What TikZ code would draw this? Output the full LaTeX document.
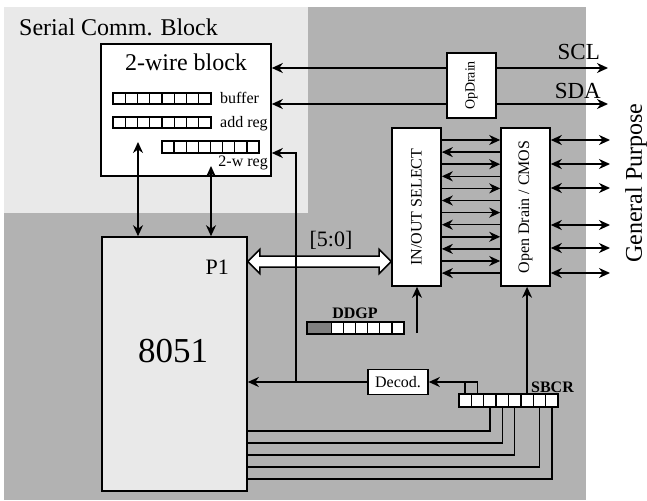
\documentclass[tikz,border=0pt]{standalone}
\usepackage{fontspec}
\usepackage{graphicx}
\setmainfont{Liberation Serif}
\usetikzlibrary{arrows.meta,calc}
\definecolor{lgray}{HTML}{E9E9E9}
\definecolor{dgray}{HTML}{B2B2B2}
\definecolor{cellgray}{HTML}{808080}
\newcommand{\fs}[1]{\fontsize{#1}{#1}\selectfont}
\begin{document}
\begin{tikzpicture}[x=1pt,y=-1pt,
 box/.style={draw,line width=1.6pt,fill=white,inner sep=0pt},
 ln/.style={line width=1.5pt},
 arr/.style={ln,-{Stealth[length=11pt,width=10pt,inset=3.5pt]}},
 darr/.style={ln,{Stealth[length=11pt,width=10pt,inset=3.5pt]}-{Stealth[length=11pt,width=10pt,inset=3.5pt]}},
 txt/.style={inner sep=0pt},
 cell/.style={draw,fill=white,line width=1.4pt},
]
\useasboundingbox (0,0) rectangle (647,500);
% backgrounds
\fill[dgray] (4,7) rectangle (586,500);
\fill[lgray] (4,7) rectangle (308,213);
\node[txt,anchor=base west,font=\fs{24}] (title) at (19,35.5) {Serial Comm. Block};

% 2-wire block
\node[box,minimum width=170pt,minimum height=132pt] (wire) at (186,110) {};
\node[txt,anchor=base,font=\fs{24}] (wiret) at (186,71) {2-wire block};
\foreach \i in {0,...,7} {
  \draw[cell] ({113+12.25*\i},93) rectangle ++(12.25,11);
  \draw[cell] ({113+12.25*\i},117) rectangle ++(12.25,11);
  \draw[cell] ({162+12.125*\i},141) rectangle ++(12.125,12);
}
\node[txt,anchor=base west,font=\fs{16}] (lbuf) at (220,104) {buffer};
\node[txt,anchor=base west,font=\fs{16}] (ladd) at (220,128) {add reg};
\node[txt,anchor=base east,font=\fs{16}] (l2w) at (268,166) {2-w reg};

% 8051
\node[box,fill=lgray,minimum width=145pt,minimum height=254pt] (mcu) at (174.5,364) {};
\node[txt,anchor=base,font=\fs{35}] (mcut) at (173,362) {8051};
\node[txt,anchor=base east,font=\fs{22}] (p1) at (229,274) {P1};

% SCL / SDA
\coordinate (sclend) at (608,68);
\coordinate (sdaend) at (608,104);
\draw[darr] (wire.east |- sclend) -- (sclend);
\draw[darr] (wire.east |- sdaend) -- (sdaend);
\node[box,minimum width=49pt,minimum height=65pt] (opd) at (471.5,85.5) {\rotatebox{90}{\fs{14}OpDrain}};
\node[txt,anchor=base east,font=\fs{23}] (scl) at (600,60) {SCL};
\node[txt,anchor=base east,font=\fs{23}] (sda) at (601,99) {SDA};

% IN/OUT SELECT and Open Drain / CMOS
\node[box,minimum width=49pt,minimum height=158pt] (iosel) at (416.5,207) {\rotatebox{90}{\fs{16}IN/OUT SELECT}};
\node[box,minimum width=49pt,minimum height=158pt] (odc) at (525.5,207) {\rotatebox{90}{\fs{16}Open Drain / CMOS}};
\foreach \i in {0,2,...,10} {
  \coordinate (t) at (0,{140+12.1*\i});
  \draw[arr] (iosel.east |- t) -- (odc.west |- t);
}
\foreach \i in {1,3,...,11} {
  \coordinate (t) at (0,{140+12.1*\i});
  \draw[arr] (odc.west |- t) -- (iosel.east |- t);
}
\foreach \y in {140,164,188,225,248,273} {
  \coordinate (t) at (610,\y);
  \draw[darr] (odc.east |- t) -- (t);
}
\node[txt,rotate=90,font=\fs{24}] (gp) at (636,183) {General Purpose};

% wire <-> 8051
\coordinate (w1) at (138,142);
\coordinate (w2) at (211,166);
\draw[darr] (w1) -- (w1 |- mcu.north);
\draw[darr] (w2) -- (w2 |- mcu.north);

% big bus arrow [5:0]
\coordinate (pl) at (mcu.east |- 0,261.5);
\coordinate (pr) at (iosel.west |- 0,261.5);
\draw[line width=1.5pt,fill=white,line join=miter] (pl) -- ++(12,-12) -- ++(0,6.5) -- ($(pr)+(-12,-5.5)$) -- ++(0,-6.5) -- (pr)
  -- ++(-12,12) -- ++(0,-6.5) -- ($(pl)+(12,5.5)$) -- ++(0,6.5) -- cycle;
\node[txt,anchor=base,font=\fs{22}] (bus) at (331,246) {[5:0]};

% Decoder
\node[box,minimum width=60pt,minimum height=25pt] (decod) at (398,382) {\fs{16}Decod.};
\coordinate (br) at (296,382);
\coordinate (bt) at (296,153);
\draw[arr] (decod.west) -- (decod.west -| mcu.east);
\draw[arr] (br) -- (bt) -- (wire.east |- bt);

% DDGP register
\fill[cellgray] (307,322) rectangle (331.25,334);
\draw[line width=1.4pt] (307,322) rectangle (331.25,334);
\foreach \i in {2,...,7} \draw[cell] ({307+12.125*\i},322) rectangle ++(12.125,12);
\node[txt,anchor=base,font=\bfseries\fs{16}] (ddgp) at (355,318) {DDGP};
\coordinate (dd) at (417,333);
\draw[arr] (dd) -- (dd |- iosel.south);

% SBCR register
\foreach \i in {1,...,8} {
  \draw[cell] ({459+12.375*(\i-1)},394) rectangle ++(12.375,13);
  \coordinate (st\i) at ({459+12.375*(\i-0.5)},394);
  \coordinate (sb\i) at ({459+12.375*(\i-0.5)},407);
}
\node[txt,anchor=base,font=\bfseries\fs{16}] (sbcr) at (552.5,392) {SBCR};
\draw[ln] (st1) -- (st1 |- decod.east) -- (st2 |- decod.east) -- (st2);
\draw[arr] (st1 |- decod.east) -- (decod.east);
\draw[arr] (st6) -- (st6 |- odc.south);
\foreach \c/\y in {3/431,4/443,5/455,7/467,8/479} {
  \coordinate (t) at (0,\y);
  \draw[ln] (sb\c) -- (sb\c |- t) -- (mcu.east |- t);
}
\end{tikzpicture}
\end{document}
